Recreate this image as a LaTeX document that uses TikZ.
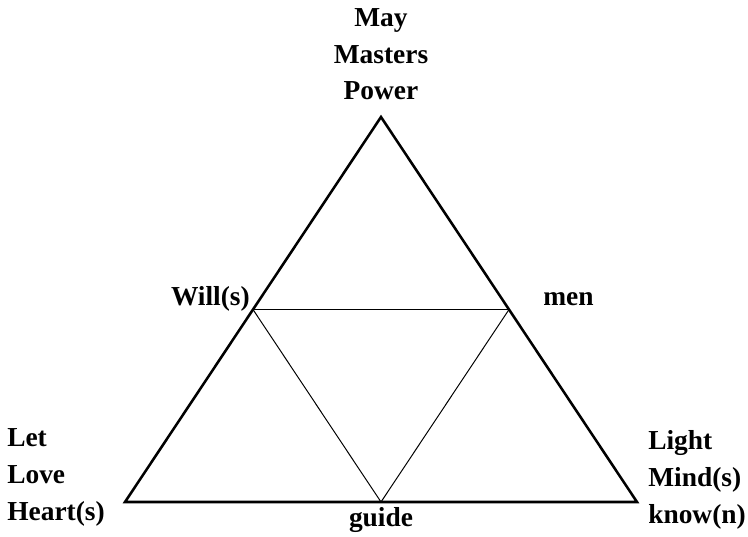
\documentclass[tikz,border=0pt]{standalone}
\usepackage{fontspec}
\setmainfont{Liberation Serif}
\usepackage{tikz}
\usetikzlibrary{calc, positioning}

\begin{document}
\begin{tikzpicture}[x=0.025cm, y=-0.025cm,
    font=\fontsize{19.5}{26}\selectfont\bfseries,
    word/.style={inner sep=0pt, align=left},
    outer/.style={line width=1.8pt},
    inner/.style={line width=0.7pt}]
\useasboundingbox (0,0) rectangle (748,537);

% corners of the big triangle
\coordinate (apex) at (381,117);
\coordinate (left) at (125,502);
\coordinate (right) at (637,502);

% midpoints of its sides
\coordinate (will) at ($(apex)!0.5!(left)$);
\coordinate (men) at ($(apex)!0.5!(right)$);
\coordinate (guide) at ($(left)!0.5!(right)$);

\draw[outer] (apex) -- (left) -- (right) -- cycle;
\draw[inner] (will) -- (men) -- (guide) -- cycle;

\node[word, align=center, anchor=base] (top) at (381,100) {May\\Masters\\Power};
\node[word, anchor=base west] (lefttxt) at (7,520) {Let\\Love\\Heart(s)};
\node[word, anchor=base west] (righttxt) at (648,523) {Light\\Mind(s)\\know(n)};
\node[word, anchor=base east] (willtxt) at (250,305) {Will(s)};
\node[word, anchor=base west] (mentxt) at (543,305) {men};
\node[word, anchor=base] (guidetxt) at (381,526) {guide};
\end{tikzpicture}
\end{document}
